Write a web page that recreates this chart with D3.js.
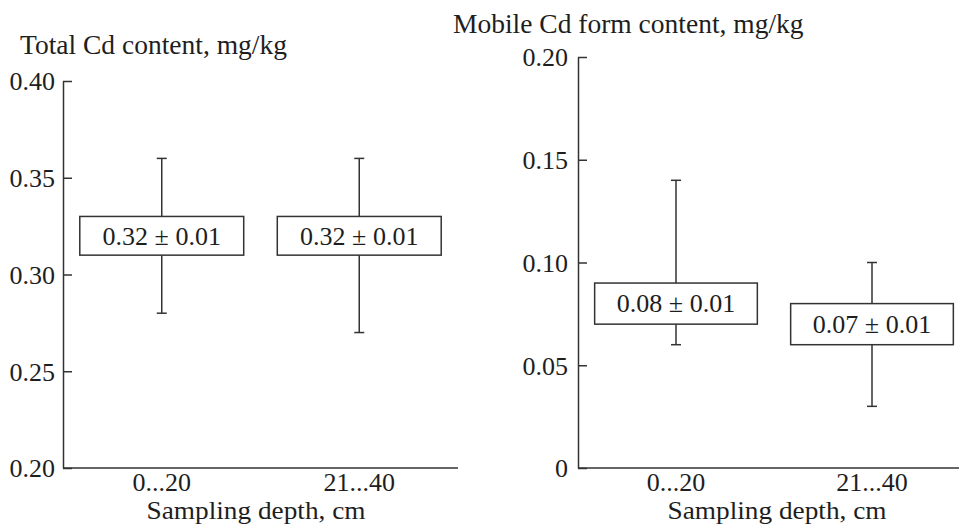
<!DOCTYPE html>
<html>
<head>
<meta charset="utf-8">
<script src="https://cdn.jsdelivr.net/npm/d3@7/dist/d3.min.js"></script>
<style>
  html, body { margin: 0; padding: 0; background: #fff; }
  svg { display: block; }
  text { font-family: "Liberation Serif", "Times New Roman", serif; fill: #1e1e1e; }
</style>
</head>
<body>
<svg id="chart" width="959" height="525"></svg>
<script>
// ---- data ----
const categories = ["0...20", "21...40"];

const totalMean = [0.32, 0.32];
const totalSE   = [0.01, 0.01];
const totalMin  = [0.28, 0.27];
const totalMax  = [0.36, 0.36];
const totalTicks = [0.20, 0.25, 0.30, 0.35, 0.40];

const mobileMean = [0.08, 0.07];
const mobileSE   = [0.01, 0.01];
const mobileMin  = [0.06, 0.03];
const mobileMax  = [0.14, 0.10];
const mobileTicks = [0, 0.05, 0.10, 0.15, 0.20];

const titles = ["Total Cd content, mg/kg", "Mobile Cd form content, mg/kg"];
const xTitle = "Sampling depth, cm";

// ---- drawing ----
const svg = d3.select("#chart");
const FS = 26;
const FS_T = 27.5;
const LINE = "#333";

function panel(cfg) {
  const g = svg.append("g");
  const x = d3.scaleBand().domain(categories).range([cfg.x0, cfg.x1]).padding(0);
  const y = d3.scaleLinear().domain(cfg.domain).range([cfg.yBottom, cfg.yTop]);

  // y axis
  const ya = d3.axisLeft(y).tickValues(cfg.ticks).tickFormat(cfg.fmt)
    .tickSizeInner(-9).tickSizeOuter(0).tickPadding(cfg.tickPad);
  const yg = g.append("g").attr("transform", `translate(${cfg.x0},0)`).call(ya);
  yg.attr("font-family", null).attr("font-size", null);
  yg.selectAll("path, line").attr("stroke", LINE).attr("stroke-width", 1.5);
  yg.selectAll("text").attr("font-size", FS).attr("fill", "#1e1e1e").attr("dy", "0.34em");

  // x axis line
  g.append("line").attr("x1", cfg.x0).attr("x2", cfg.xLineEnd)
    .attr("y1", y(cfg.domain[0])).attr("y2", y(cfg.domain[0]))
    .attr("stroke", LINE).attr("stroke-width", 1.5);

  // category labels
  g.selectAll(".cat").data(categories).join("text")
    .attr("x", d => x(d) + x.bandwidth() / 2)
    .attr("y", y(cfg.domain[0]) + 23)
    .attr("text-anchor", "middle").attr("font-size", FS)
    .text(d => d);

  g.append("text").attr("x", cfg.xTitleX).attr("y", 519)
    .attr("text-anchor", "middle").attr("font-size", FS)
    .attr("textLength", 219).attr("lengthAdjust", "spacingAndGlyphs")
    .text(xTitle);

  g.append("text").attr("x", cfg.titleX).attr("y", cfg.titleY)
    .attr("font-size", FS_T).text(cfg.title);

  const boxW = x.bandwidth() * 0.83;
  const capW = 10;
  const idx = d3.range(categories.length);

  // whiskers
  g.selectAll(".whisk").data(idx).join("line")
    .attr("x1", i => x(categories[i]) + x.bandwidth() / 2)
    .attr("x2", i => x(categories[i]) + x.bandwidth() / 2)
    .attr("y1", i => y(cfg.max[i])).attr("y2", i => y(cfg.min[i]))
    .attr("stroke", LINE).attr("stroke-width", 1.5);
  ["max", "min"].forEach(k => {
    g.selectAll(".cap" + k).data(idx).join("line")
      .attr("x1", i => x(categories[i]) + x.bandwidth() / 2 - capW / 2)
      .attr("x2", i => x(categories[i]) + x.bandwidth() / 2 + capW / 2)
      .attr("y1", i => y(cfg[k][i])).attr("y2", i => y(cfg[k][i]))
      .attr("stroke", LINE).attr("stroke-width", 1.5);
  });

  // boxes (mean ± SE)
  g.selectAll(".box").data(idx).join("rect")
    .attr("x", i => x(categories[i]) + x.bandwidth() / 2 - boxW / 2)
    .attr("width", boxW)
    .attr("y", i => y(cfg.mean[i] + cfg.se[i]))
    .attr("height", i => y(cfg.mean[i] - cfg.se[i]) - y(cfg.mean[i] + cfg.se[i]))
    .attr("fill", "#fff").attr("stroke", LINE).attr("stroke-width", 1.5);

  g.selectAll(".lbl").data(idx).join("text")
    .attr("x", i => x(categories[i]) + x.bandwidth() / 2)
    .attr("y", i => y(cfg.mean[i]))
    .attr("dy", "0.34em")
    .attr("text-anchor", "middle").attr("font-size", FS)
    .text(i => `${cfg.mean[i].toFixed(2)} \u00B1 ${cfg.se[i].toFixed(2)}`);
}

panel({
  x0: 63, x1: 458, xLineEnd: 458, yTop: 81, yBottom: 468,
  domain: [0.20, 0.40], ticks: totalTicks, fmt: d3.format(".2f"), tickPad: 8,
  mean: totalMean, se: totalSE, min: totalMin, max: totalMax,
  title: titles[0], titleX: 20, titleY: 54, xTitleX: 256
});

panel({
  x0: 578, x1: 970, xLineEnd: 959, yTop: 57, yBottom: 468,
  domain: [0, 0.20], ticks: mobileTicks, fmt: d => d === 0 ? "0" : d3.format(".2f")(d), tickPad: 10,
  mean: mobileMean, se: mobileSE, min: mobileMin, max: mobileMax,
  title: titles[1], titleX: 453, titleY: 33, xTitleX: 777
});
</script>
</body>
</html>
